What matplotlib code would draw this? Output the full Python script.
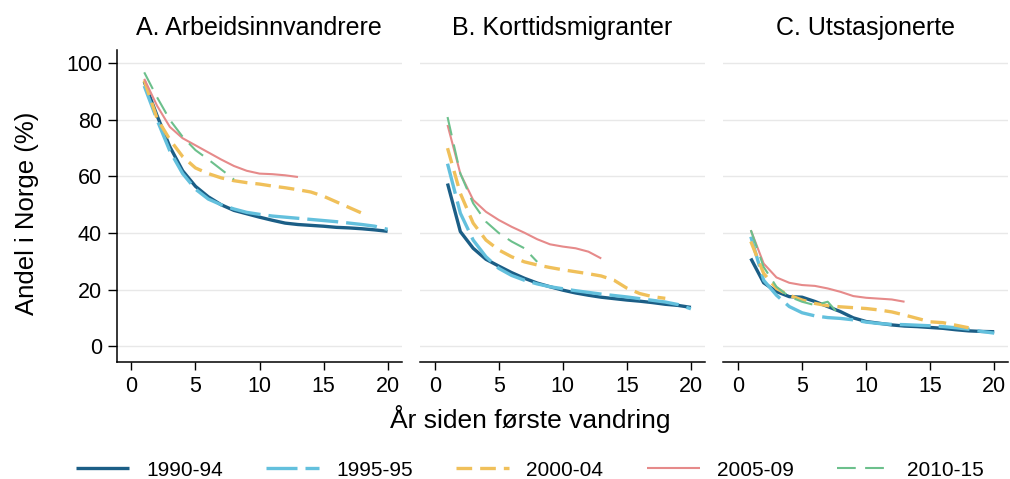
import matplotlib
matplotlib.use("Agg")
import matplotlib.pyplot as plt

plt.rcParams['font.family'] = ['Liberation Sans', 'DejaVu Sans']

# Data: andel i Norge (%) etter år siden første vandring
years = list(range(1, 21))
cohorts = ['1990-94', '1995-95', '2000-04', '2005-09', '2010-15']
panel_titles = ['A. Arbeidsinnvandrere', 'B. Korttidsmigranter', 'C. Utstasjonerte']

a_1990 = [93.5, 81.5, 70.5, 62, 56.5, 52.8, 50, 48, 46.8, 45.6,
          44.5, 43.5, 43, 42.7, 42.4, 42, 41.8, 41.5, 41.1, 40.6]
a_1995 = [92, 80, 69, 61, 55.5, 52, 50, 48.5, 47.3, 46.6,
          46, 45.6, 45.2, 44.8, 44.4, 44, 43.5, 43, 42.4, 41.3]
a_2000 = [94, 80.5, 73, 67, 63, 61, 59.5, 58.5, 57.8, 57.3,
          56.6, 56, 55.3, 54.5, 53, 51, 49, 47]
a_2005 = [94.5, 85, 77.5, 73.5, 71, 68.5, 66, 63.7, 62, 61, 60.8, 60.4, 59.8]
a_2010 = [96.8, 88, 80, 74, 69.3, 66, 62.5, 59]

b_1990 = [57.5, 40.5, 34.6, 30.7, 28.3, 26, 24, 22.3, 21, 19.8,
          18.8, 18, 17.3, 16.8, 16.3, 15.9, 15.4, 14.8, 14.4, 13.7]
b_1995 = [64.5, 47, 37.5, 31.6, 27.5, 25, 23.3, 22, 21, 20.3,
          19.6, 19, 18.4, 17.9, 17.4, 16.8, 16.2, 15.6, 14.7, 13.2]
b_2000 = [70, 54, 43.5, 37.5, 34, 31.6, 29.8, 28.7, 27.8, 27,
          26.3, 25.6, 24.8, 23.3, 20.5, 18.6, 17.5, 16.9]
b_2005 = [78.2, 61, 51.7, 47.5, 44.6, 42.2, 40.1, 37.8, 36, 35.2, 34.6, 33.4, 31]
b_2010 = [81, 61, 50.5, 44, 40, 37, 34.6, 29.8]

c_1990 = [31, 22.4, 19.3, 17.5, 17.3, 15.8, 14, 12.2, 10, 8.7,
          8.1, 7.5, 7.1, 6.9, 6.6, 6.3, 5.8, 5.4, 5.2, 5.1]
c_1995 = [38.7, 23.3, 18, 14, 11.8, 10.7, 10.1, 9.8, 9.3, 8.5,
          8, 7.7, 7.6, 7.4, 7.2, 6.9, 6.5, 6, 5.2, 4.6]
c_2000 = [37, 25.7, 20.4, 18, 16.3, 15.1, 14.3, 13.9, 13.6, 13.3,
          12.8, 12.1, 11, 9.8, 8.6, 8.3, 7.4, 6.5]
c_2005 = [41, 29.2, 24.3, 22.4, 21.6, 21.3, 20.4, 19.2, 17.7, 17.1, 16.8, 16.5, 15.7]
c_2010 = [41, 28, 21, 17.5, 15.7, 14.5, 15.7, 10.6]

panels = [
    [a_1990, a_1995, a_2000, a_2005, a_2010],
    [b_1990, b_1995, b_2000, b_2005, b_2010],
    [c_1990, c_1995, c_2000, c_2005, c_2010],
]

# stil for hver kohort
styles = [
    dict(color='#1b5e86', lw=2.4, ls='-'),
    dict(color='#63c0dd', lw=2.4, ls=(0, (9.3, 2.4))),
    dict(color='#f0c05a', lw=2.4, ls=(0, (4.7, 2.4))),
    dict(color='#e68a8a', lw=1.5, ls='-'),
    dict(color='#6cc08c', lw=1.5, ls=(0, (9, 4.5))),
]

fig = plt.figure(figsize=(10.1, 4.79), dpi=100)
W, H = 1010, 479
lefts = [116.7, 420, 723.3]
axw = 285
bottom, top = 361.7, 50

for i, (left, series) in enumerate(zip(lefts, panels)):
    ax = fig.add_axes([left / W, 1 - bottom / H, axw / W, (bottom - top) / H])
    for vals, st, lab in zip(series, styles, cohorts):
        ax.plot(years[:len(vals)], vals, label=lab, solid_capstyle='butt',
                dash_capstyle='butt', **st)
    ax.set_xlim(-1.15, 21.1)
    ax.set_ylim(-5.5, 104.7)
    ax.set_xticks([0, 5, 10, 15, 20])
    ax.set_yticks([0, 20, 40, 60, 80, 100])
    ax.grid(axis='y', color='#e8e8e8', lw=1.0)
    ax.grid(axis='x', visible=False)
    ax.set_axisbelow(True)
    ax.spines['top'].set_visible(False)
    ax.spines['right'].set_visible(False)
    ax.spines['bottom'].set_linewidth(1.1)
    ax.spines['left'].set_linewidth(1.1)
    ax.tick_params(axis='x', length=6, width=1, pad=4.5, labelsize=15.5)
    ax.tick_params(axis='y', length=6.5, width=1, pad=4, labelsize=15.5)
    if i > 0:
        ax.spines['left'].set_visible(False)
        ax.tick_params(axis='y', left=False, labelleft=False)
    ax.set_title(panel_titles[i], fontsize=18, pad=10.8)
    if i == 0:
        handles, labels = ax.get_legend_handles_labels()

fig.text(530 / W, 1 - 428 / H, 'År siden første vandring', fontsize=19,
         ha='center', va='baseline')
fig.text(27 / W, 1 - 213 / H, 'Andel i Norge (%)', fontsize=18.5,
         ha='center', va='center', rotation=90)

fig.legend(handles, labels, loc='center', bbox_to_anchor=(530 / W, 1 - 470 / H),
           ncol=5, frameon=False, fontsize=15, handlelength=2.55,
           handletextpad=0.82, columnspacing=2.07, borderpad=0, borderaxespad=0)

fig.savefig('out.png', dpi=100)
